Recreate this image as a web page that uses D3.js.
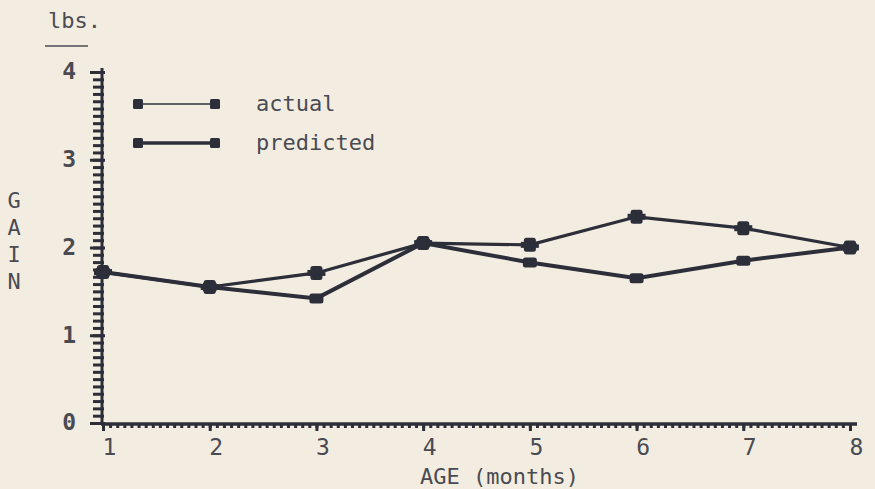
<!DOCTYPE html>
<html>
<head>
<meta charset="utf-8">
<script src="https://cdnjs.cloudflare.com/ajax/libs/d3/7.8.5/d3.min.js"></script>
<style>
  body { margin: 0; background: #f3ede1; }
  svg { display: block; }
  text { font-family: "DejaVu Sans Mono", monospace; fill: #4a4b52; }
  .domain { stroke: #2c2e3a; stroke-width: 3px; }
  .tick line { stroke: #2c2e3a; stroke-width: 3px; }
</style>
</head>
<body>
<svg id="chart" width="875" height="489"></svg>
<script>
// average daily gain, lbs., by age in months
var months = [1, 2, 3, 4, 5, 6, 7, 8];
var actual = [1.72, 1.55, 1.71, 2.05, 2.03, 2.35, 2.22, 2.0];
var predicted = [1.72, 1.55, 1.42, 2.05, 1.83, 1.65, 1.85, 2.0];
var yTicks = [0, 1, 2, 3, 4];
var seriesNames = ["actual", "predicted"];

var ink = "#2c2e3a";
var svg = d3.select("#chart");

var x = d3.scaleLinear().domain([1, 8]).range([103, 850]);
var y = d3.scaleLinear().domain([0, 4]).range([423, 72]);

// minor ticks first
var yMinor = d3.range(0, 4.001, 1 / 12);
svg.append("g")
    .attr("transform", "translate(102,0)")
    .call(d3.axisLeft(y).tickValues(yMinor).tickSize(9).tickFormat(""))
    .call(g => g.select(".domain").remove())
    .selectAll(".tick line").attr("x1", 2);

var xMinor = d3.range(1, 8.001, 1 / 15);
svg.append("g")
    .attr("transform", "translate(0,424)")
    .call(d3.axisBottom(x).tickValues(xMinor).tickSize(4).tickFormat(""))
    .call(g => g.select(".domain").remove());

// main axes
var yAxis = svg.append("g")
    .attr("transform", "translate(102,0)")
    .call(d3.axisLeft(y).tickValues(yTicks).tickSize(12).tickPadding(14).tickFormat(d3.format("d")));
yAxis.select(".domain").attr("d", "M0,425V68");
yAxis.selectAll(".tick line").attr("x1", 3);
yAxis.selectAll("text").style("font-size", "23px").style("font-weight", "bold").attr("dy", "0.3em");

var xAxis = svg.append("g")
    .attr("transform", "translate(0,424)")
    .call(d3.axisBottom(x).tickValues(months).tickSize(7).tickPadding(8).tickFormat(d3.format("d")));
xAxis.select(".domain").attr("d", "M101,0H857").style("stroke-width", "3.5px");
xAxis.selectAll("text").style("font-size", "23px").attr("dx", 6);

// axis titles
svg.append("text").attr("x", 48).attr("y", 28).style("font-size", "22px").text("lbs.");
svg.append("line").attr("x1", 45).attr("x2", 88).attr("y1", 46).attr("y2", 46)
    .style("stroke", "#4a4b52").style("stroke-width", 1.5);

svg.append("g").selectAll("text")
    .data("GAIN".split(""))
    .join("text")
    .attr("x", 14).attr("y", (d, i) => 208 + i * 27)
    .attr("text-anchor", "middle")
    .style("font-size", "22px")
    .text(d => d);

svg.append("text").attr("x", 420).attr("y", 484).style("font-size", "22px").text("AGE (months)");

// lines
var line = d3.line().x((d, i) => x(months[i])).y(d => y(d));

svg.append("path").datum(predicted).attr("d", line)
    .style("fill", "none").style("stroke", ink).style("stroke-width", 4);
svg.append("path").datum(actual).attr("d", line)
    .style("fill", "none").style("stroke", ink).style("stroke-width", 3.2);

function markers(data, w, h, cls) {
  svg.append("g").selectAll("rect." + cls)
    .data(data).join("rect")
    .attr("class", cls)
    .attr("x", (d, i) => x(months[i]) - w / 2)
    .attr("y", d => y(d) - h / 2)
    .attr("width", w).attr("height", h)
    .attr("rx", 2.5)
    .style("fill", ink);
}
markers(predicted, 14, 10, "pred");
markers(actual, 12, 14, "act");
// little side tabs on the actual markers
svg.append("g").selectAll("rect")
  .data(actual).join("rect")
  .attr("x", (d, i) => x(months[i]) - 9)
  .attr("y", d => y(d) - 3)
  .attr("width", 18).attr("height", 6)
  .style("fill", ink);

// legend
var legend = svg.append("g");
var legendY = [104, 143];
seriesNames.forEach(function (name, i) {
  var g = legend.append("g").attr("transform", "translate(0," + legendY[i] + ")");
  g.append("line").attr("x1", 138).attr("x2", 215)
    .style("stroke", ink).style("stroke-width", i === 0 ? 1.5 : 3.5);
  [138, 215].forEach(function (cx) {
    g.append("rect").attr("x", cx - 5).attr("y", -5).attr("width", 10).attr("height", 10)
      .attr("rx", 1.5).style("fill", ink);
  });
  g.append("text").attr("x", 256).attr("y", 0).attr("dy", "0.3em")
    .style("font-size", "22px").text(name);
});
</script>
</body>
</html>
